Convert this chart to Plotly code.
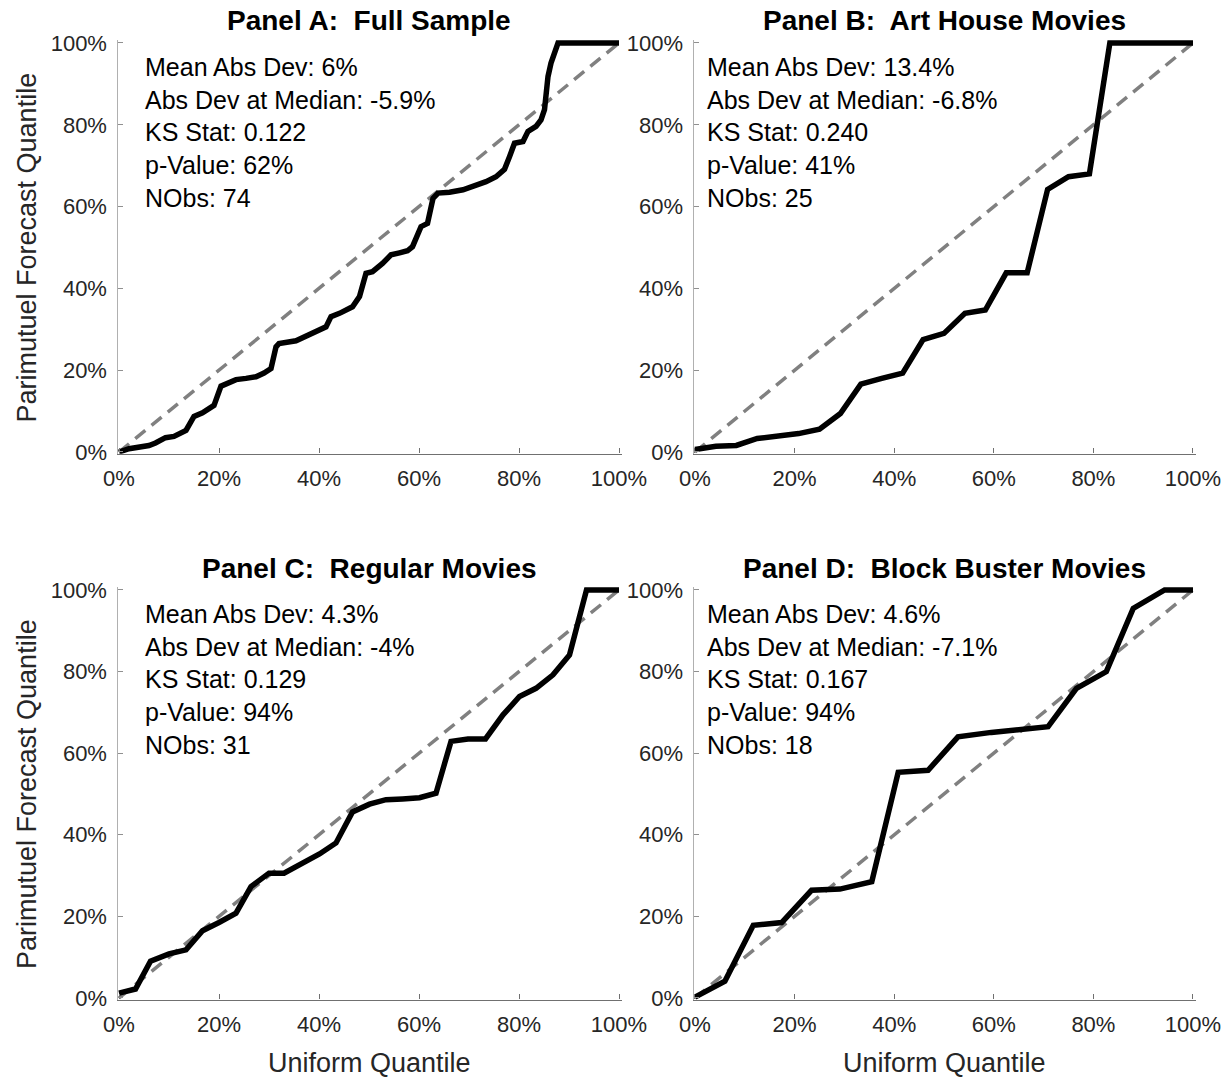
import plotly.graph_objects as go

# ---------------- data (percent) ----------------
a_x = [0, 2.0, 6.0, 7.3, 9.3, 11.0, 13.4, 15.0, 16.7, 19.0, 20.4, 21.7, 23.4, 25.4, 27.4, 29.0, 30.4, 31.4, 32.0,
       35.4, 38.1, 40.1, 41.4, 42.4, 44.1, 46.7, 48.1, 49.4, 50.7, 52.7, 54.4, 56.1, 57.7, 58.7, 60.4, 61.7, 62.8,
       63.8, 66.1, 68.8, 70.8, 73.4, 75.4, 77.1, 78.1, 79.1, 80.8, 81.8, 83.4, 84.4, 85.1, 85.8, 86.4, 87.8, 100]
a_y = [0, 0.8, 1.6, 2.2, 3.5, 3.8, 5.3, 8.7, 9.6, 11.4, 16.1, 16.7, 17.7, 18.0, 18.4, 19.3, 20.4, 25.7, 26.5,
       27.2, 28.8, 30.2, 30.6, 33.1, 33.9, 35.5, 38.0, 43.7, 44.1, 46.1, 48.2, 48.7, 49.2, 50.2, 55.1, 55.9, 62.0,
       63.3, 63.5, 64.1, 64.9, 66.1, 67.3, 69.1, 72.2, 75.5, 75.9, 78.4, 79.6, 81.2, 83.7, 91.8, 95.1, 100, 100]

b_x = [0, 4.2, 8.3, 12.5, 20.8, 25.0, 29.2, 33.3, 37.5, 41.7, 45.8, 50.0, 54.2, 58.3, 62.5, 66.7, 70.8, 75.0,
       79.2, 83.3, 100]
b_y = [0.6, 1.4, 1.6, 3.3, 4.5, 5.6, 9.4, 16.6, 18.0, 19.3, 27.5, 29.0, 33.9, 34.7, 43.8, 43.8, 64.2, 67.3,
       68.0, 100, 100]

c_x = [0, 3.3, 6.3, 10.0, 13.4, 16.7, 20.0, 23.4, 26.4, 30.0, 33.0, 36.7, 40.1, 43.4, 46.7, 50.1, 53.4, 56.7,
       60.1, 63.4, 66.4, 69.8, 73.3, 76.8, 80.1, 83.4, 86.8, 90.1, 93.5, 100]
c_y = [1.2, 2.2, 9.0, 10.8, 11.8, 16.5, 18.5, 20.8, 27.3, 30.6, 30.6, 33.1, 35.3, 38.0, 45.6, 47.5, 48.6, 48.8,
       49.1, 50.2, 62.9, 63.5, 63.5, 69.4, 73.9, 75.9, 79.2, 84.1, 100, 100]

d_x = [0, 6.0, 11.7, 17.4, 23.4, 29.1, 35.5, 40.8, 46.8, 52.8, 59.5, 65.2, 70.9, 76.6, 82.6, 88.0, 94.3, 100]
d_y = [0.2, 4.1, 17.8, 18.5, 26.4, 26.7, 28.5, 55.3, 55.8, 64.0, 65.1, 65.7, 66.5, 75.9, 80.0, 95.5, 100, 100]

diag_x = [0, 100]
diag_y = [0, 100]

titles = ["Panel A:  Full Sample", "Panel B:  Art House Movies",
          "Panel C:  Regular Movies", "Panel D:  Block Buster Movies"]
stats = [
    ["Mean Abs Dev: 6%", "Abs Dev at Median: -5.9%", "KS Stat: 0.122", "p-Value: 62%", "NObs: 74"],
    ["Mean Abs Dev: 13.4%", "Abs Dev at Median: -6.8%", "KS Stat: 0.240", "p-Value: 41%", "NObs: 25"],
    ["Mean Abs Dev: 4.3%", "Abs Dev at Median: -4%", "KS Stat: 0.129", "p-Value: 94%", "NObs: 31"],
    ["Mean Abs Dev: 4.6%", "Abs Dev at Median: -7.1%", "KS Stat: 0.167", "p-Value: 94%", "NObs: 18"],
]
tick_vals = [0, 20, 40, 60, 80, 100]
tick_text = ["0%", "20%", "40%", "60%", "80%", "100%"]
x_title = "Uniform Quantile"
y_title = "Parimutuel Forecast Quantile"

series = [(a_x, a_y), (b_x, b_y), (c_x, c_y), (d_x, d_y)]

# ---------------- layout geometry ----------------
W, H = 1230, 1078
FONT = "Liberation Sans, Arial, sans-serif"
# pixel positions of value 0 and value 100 for each panel
col_px = [(119, 619), (695, 1193)]
row_px = [(452, 43), (998, 590)]
xpad = (-0.3, 100.6)
ypad = (-0.4, 100.8)


def x_domain(p0, p100):
    s = (p100 - p0) / 100.0
    left = p0 + xpad[0] * s
    right = p0 + xpad[1] * s
    return [left / W, right / W]


def y_domain(p0, p100):
    s = (p0 - p100) / 100.0
    bottom = p0 - ypad[0] * s
    top = p0 - ypad[1] * s
    return [1 - bottom / H, 1 - top / H]


fig = go.Figure()
annotations = []
text_x = [143, 705]
line_px_off = [24, 57, 89, 122, 155]

for i, (sx, sy) in enumerate(series):
    r, c = divmod(i, 2)
    n = i + 1
    xa = "x" if n == 1 else f"x{n}"
    ya = "y" if n == 1 else f"y{n}"
    fig.add_trace(go.Scatter(x=diag_x, y=diag_y, mode="lines", xaxis=xa, yaxis=ya,
                             line=dict(color="#808080", width=3.5, dash="13px,8px"),
                             showlegend=False, hoverinfo="skip"))
    fig.add_trace(go.Scatter(x=sx, y=sy, mode="lines", xaxis=xa, yaxis=ya,
                             line=dict(color="black", width=5.5), showlegend=False))
    axis_common = dict(tickmode="array", tickvals=tick_vals, ticktext=tick_text,
                       ticks="inside", ticklen=5, tickwidth=1, automargin=False,
                       showgrid=False, zeroline=False, showline=True, linewidth=1.3,
                       tickfont=dict(family=FONT, size=22, color="#262626"))
    xd = x_domain(*col_px[c])
    yd = y_domain(*row_px[r])
    fig.layout[f"xaxis{'' if n == 1 else n}"] = dict(
        axis_common, domain=xd, range=list(xpad), anchor=ya, linecolor="#707070", tickcolor="#707070",
        ticklabelstandoff=5)
    fig.layout[f"yaxis{'' if n == 1 else n}"] = dict(
        axis_common, domain=yd, range=list(ypad), anchor=xa, linecolor="#b0b0b0", tickcolor="#909090",
        ticklabelstandoff=5)

    # panel title
    cx = (col_px[c][0] + col_px[c][1]) / 2
    ty = [21, 568][r]
    annotations.append(dict(text=f"<b>{titles[i]}</b>", x=cx / W, y=1 - ty / H, xref="paper", yref="paper",
                            xanchor="center", yanchor="middle", showarrow=False,
                            font=dict(family=FONT, size=28, color="black")))
    # stats text
    top_px = row_px[r][1]
    for k, line in enumerate(stats[i]):
        annotations.append(dict(text=line, x=text_x[c] / W, y=1 - (top_px + line_px_off[k]) / H,
                                xref="paper", yref="paper", xanchor="left", yanchor="middle",
                                showarrow=False, font=dict(family=FONT, size=25, color="black")))

# axis titles
for r in range(2):
    cy = (row_px[r][0] + row_px[r][1]) / 2
    annotations.append(dict(text=y_title, x=27 / W, y=1 - cy / H, xref="paper", yref="paper",
                            xanchor="center", yanchor="middle", textangle=-90, showarrow=False,
                            font=dict(family=FONT, size=27, color="#262626")))
for c in range(2):
    cx = (col_px[c][0] + col_px[c][1]) / 2
    annotations.append(dict(text=x_title, x=cx / W, y=1 - 1063 / H, xref="paper", yref="paper",
                            xanchor="center", yanchor="middle", showarrow=False,
                            font=dict(family=FONT, size=27, color="#262626")))

fig.update_layout(width=W, height=H, margin=dict(l=0, r=0, t=0, b=0, autoexpand=False),
                  paper_bgcolor="white", plot_bgcolor="white", annotations=annotations)

fig.write_html("out.html", config={"displayModeBar": False},
               post_script="document.body.style.margin='0';document.body.style.overflow='hidden';")
